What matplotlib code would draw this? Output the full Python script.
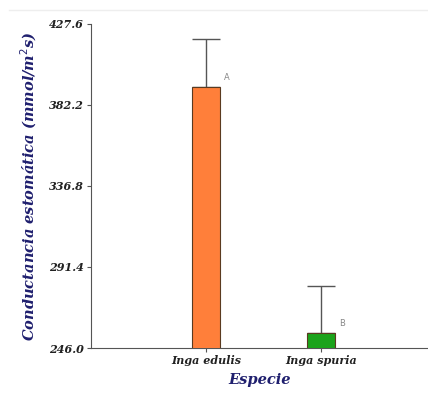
import matplotlib.pyplot as plt
import numpy as np

# data
especies = ['Inga edulis', 'Inga spuria']
medias = [392.3, 254.4]
error_sup = [27.0, 26.4]
letras = ['A', 'B']
colores = ['#FF7F3A', '#1BA31B']
yticks = [246.0, 291.4, 336.8, 382.2, 427.6]

fig = plt.figure(figsize=(4.28, 3.93), dpi=100)
ax = fig.add_axes([0.2126, 0.1145, 0.7874, 0.8245])

x = np.arange(len(especies))
ax.bar(x, medias, width=0.24, color=colores, edgecolor='#5a3a20', linewidth=0.8, zorder=3)
# only the upper whisker is visible, the lower cap hides under the bar
ax.errorbar(x, medias, yerr=[np.zeros(len(medias)), error_sup], fmt='none',
            ecolor='#555555', elinewidth=1.0, capsize=10, capthick=1.0, zorder=1)

for xi, m, l in zip(x, medias, letras):
    ax.text(xi + 0.16, m + 3, l, fontsize=6, color='#888888', ha='left', va='bottom')

ax.set_xlim(-1.0, 1.93)
ax.set_ylim(246.0, 427.6)
ax.set_yticks(yticks)
ax.set_yticklabels([f'{v:.1f}' for v in yticks])
ax.set_xticks(x)
ax.set_xticklabels(especies)

font = dict(family='DejaVu Serif', weight='bold', style='italic')
for lab in ax.get_xticklabels() + ax.get_yticklabels():
    lab.set_fontfamily('DejaVu Serif')
    lab.set_fontweight('bold')
    lab.set_fontstyle('italic')
    lab.set_fontsize(8)
    lab.set_color('#222222')

ax.set_ylabel('Conductancia estomática (mmol/m$^2$s)', fontsize=10.5, color='#1f1f6e',
              labelpad=7, **font)
ax.set_xlabel('Especie', fontsize=10.5, color='#1f1f6e', labelpad=5, **font)

ax.spines['top'].set_visible(False)
ax.spines['right'].set_visible(False)
ax.spines['left'].set_color('#555555')
ax.spines['bottom'].set_color('#555555')
ax.tick_params(axis='both', length=3, color='#555555', pad=2)

# faint frame line at the top of the image
fig.add_artist(plt.Line2D([0.02, 1.0], [0.975, 0.975], color='#eeeeee', linewidth=1))

fig.savefig('out.png', dpi=100)
